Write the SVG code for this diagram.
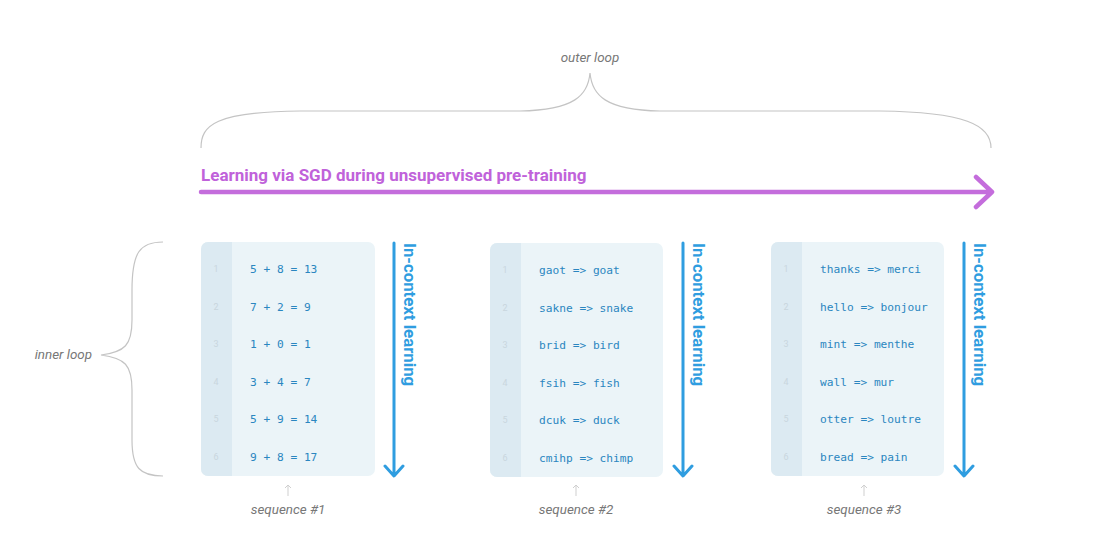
<svg xmlns="http://www.w3.org/2000/svg" width="1104" height="538" viewBox="0 0 1104 538">
<style>
.box{fill:#ebf4f8}
.gut{fill:#dceaf2}
.code{font-family:"DejaVu Sans Mono","Liberation Mono",monospace;font-size:11.2px;fill:#2a86c0}
.ln{font-family:"Roboto","Liberation Sans",sans-serif;font-size:9px;fill:#c9d6de;text-anchor:middle}
.icl{font-family:"Roboto","Liberation Sans",sans-serif;font-size:16.8px;font-weight:bold;fill:#2f9de0}
.blue{stroke:#2f9de0;stroke-width:3;fill:none;stroke-linecap:round;stroke-linejoin:round}
.note{font-family:"Roboto","Liberation Sans",sans-serif;font-size:13.4px;font-style:italic;fill:#777}
.brace{stroke:#c4c4c4;stroke-width:1.2;fill:none}
.tick{stroke:#cfcfcf;stroke-width:1;fill:none}
</style>
<rect width="1104" height="538" fill="#ffffff"/>
<g id="outer-loop">
<path class="brace" d="M201,148 C201,125 215,112 300,111 L520,111 C575,110 588,95 590,73 C592,95 605,110 660,111 L880,111 C965,112 991,125 991,148"/>
<text class="note" x="590" y="62" text-anchor="middle">outer loop</text>
</g>
<g id="inner-loop">
<path class="brace" d="M163,242 C140,242 132,252 132,290 L132,320 C132,345 125,352 101,355 C125,358 132,365 132,390 L132,440 C132,468 140,476 163,476"/>
<text class="note" x="92" y="359" text-anchor="end">inner loop</text>
</g>
<g id="sgd">
<text x="201" y="181" style="font-family:Roboto,'Liberation Sans',sans-serif;font-size:17px;font-weight:bold;fill:#c062da">Learning via SGD during unsupervised pre-training</text>
</g>
<g id="seq1">
<rect class="box" x="201" y="242" width="174" height="234" rx="7"/>
<path class="gut" d="M208,242 H232 V476 H208 A7,7 0 0 1 201,469 V249 A7,7 0 0 1 208,242 Z"/>
<text class="ln" x="216" y="272">1</text><text class="ln" x="216" y="310">2</text><text class="ln" x="216" y="347">3</text><text class="ln" x="216" y="385">4</text><text class="ln" x="216" y="422">5</text><text class="ln" x="216" y="460">6</text>
<text class="code" x="250" y="273">5 + 8 = 13</text>
<text class="code" x="250" y="311">7 + 2 = 9</text>
<text class="code" x="250" y="348">1 + 0 = 1</text>
<text class="code" x="250" y="386">3 + 4 = 7</text>
<text class="code" x="250" y="423">5 + 9 = 14</text>
<text class="code" x="250" y="461">9 + 8 = 17</text>
<text class="icl" transform="translate(404,243) rotate(90)">In-context learning</text>
<path class="tick" d="M288,496 V485 M285,488 L288,485 L291,488"/>
<text class="note" x="288" y="514" text-anchor="middle">sequence #1</text>
</g>
<g id="seq2">
<rect class="box" x="490" y="243" width="173" height="234" rx="7"/>
<path class="gut" d="M497,243 H521 V477 H497 A7,7 0 0 1 490,470 V250 A7,7 0 0 1 497,243 Z"/>
<text class="ln" x="505" y="273">1</text><text class="ln" x="505" y="311">2</text><text class="ln" x="505" y="348">3</text><text class="ln" x="505" y="386">4</text><text class="ln" x="505" y="423">5</text><text class="ln" x="505" y="461">6</text>
<text class="code" x="539" y="274">gaot =&gt; goat</text>
<text class="code" x="539" y="312">sakne =&gt; snake</text>
<text class="code" x="539" y="349">brid =&gt; bird</text>
<text class="code" x="539" y="387">fsih =&gt; fish</text>
<text class="code" x="539" y="424">dcuk =&gt; duck</text>
<text class="code" x="539" y="462">cmihp =&gt; chimp</text>
<text class="icl" transform="translate(693,243) rotate(90)">In-context learning</text>
<path class="tick" d="M576,496 V485 M573,488 L576,485 L579,488"/>
<text class="note" x="576" y="514" text-anchor="middle">sequence #2</text>
</g>
<g id="seq3">
<rect class="box" x="771" y="242" width="173" height="234" rx="7"/>
<path class="gut" d="M778,242 H802 V476 H778 A7,7 0 0 1 771,469 V249 A7,7 0 0 1 778,242 Z"/>
<text class="ln" x="786" y="272">1</text><text class="ln" x="786" y="310">2</text><text class="ln" x="786" y="347">3</text><text class="ln" x="786" y="385">4</text><text class="ln" x="786" y="422">5</text><text class="ln" x="786" y="460">6</text>
<text class="code" x="820" y="273">thanks =&gt; merci</text>
<text class="code" x="820" y="311">hello =&gt; bonjour</text>
<text class="code" x="820" y="348">mint =&gt; menthe</text>
<text class="code" x="820" y="386">wall =&gt; mur</text>
<text class="code" x="820" y="423">otter =&gt; loutre</text>
<text class="code" x="820" y="461">bread =&gt; pain</text>
<text class="icl" transform="translate(974,243) rotate(90)">In-context learning</text>
<path class="tick" d="M864,496 V485 M861,488 L864,485 L867,488"/>
<text class="note" x="864" y="514" text-anchor="middle">sequence #3</text>
</g>
<g id="connectors">
<path d="M201,192 H991 M976,177 L992,192 L976,207" stroke="#c46ddc" stroke-width="4.5" fill="none" stroke-linecap="round" stroke-linejoin="round"/>
<path class="blue" d="M394,243 V475 M385,466 L394,476 L403,466"/>
<path class="blue" d="M683,243 V475 M674,466 L683,476 L692,466"/>
<path class="blue" d="M964,243 V475 M955,466 L964,476 L973,466"/>
</g>
</svg>
